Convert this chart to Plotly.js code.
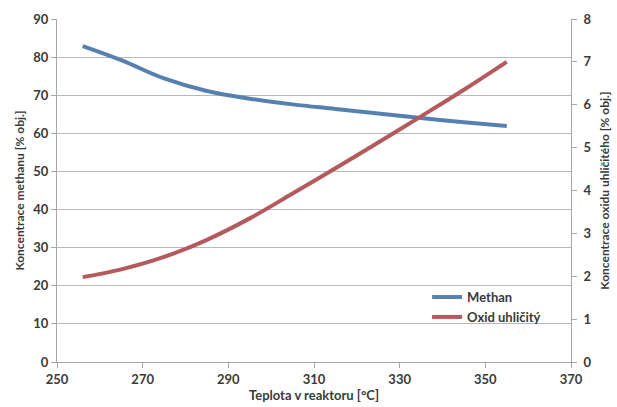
<!DOCTYPE html>
<html>
<head>
<meta charset="utf-8">
<script src="https://cdn.plot.ly/plotly-3.0.1.min.js"></script>
<style>html,body{margin:0;padding:0;background:#fff;}#chart{width:617px;height:407px;}</style>
</head>
<body>
<div id="chart"></div>
<script>
var teplota = [256, 265, 275, 285, 295, 305, 315, 325, 335, 345, 355];
var methan = [82.9, 79.2, 74.4, 71.1, 69.1, 67.6, 66.4, 65.2, 64.0, 62.9, 61.9];
var oxid = [1.98, 2.16, 2.45, 2.85, 3.35, 3.93, 4.52, 5.12, 5.73, 6.35, 7.0];
var xTicks = [250, 270, 290, 310, 330, 350, 370];

var fontFam = 'Lato, "Open Sans", sans-serif';
var axisCol = '#a6a6a6';
var txtCol = '#3a3a3a';

var traces = [
  {x: teplota, y: methan, name: 'Methan', type: 'scatter', mode: 'lines',
   line: {color: '#5680b0', width: 4, shape: 'spline', smoothing: 1.1}, yaxis: 'y'},
  {x: teplota, y: oxid, name: 'Oxid uhličitý', type: 'scatter', mode: 'lines',
   line: {color: '#b55a5c', width: 4, shape: 'spline', smoothing: 1.1}, yaxis: 'y2'}
];

var layout = {
  width: 617, height: 407,
  margin: {l: 57, r: 46, t: 19, b: 45},
  paper_bgcolor: '#ffffff', plot_bgcolor: '#ffffff',
  font: {family: fontFam, color: txtCol, size: 13, weight: 'bold'},
  showlegend: true,
  legend: {x: 0.72, y: 0.233, xanchor: 'left', yanchor: 'top', bgcolor: 'rgba(255,255,255,0)',
           font: {family: fontFam, size: 13, color: txtCol, weight: 'bold'},
           itemwidth: 30, tracegroupgap: 0},
  xaxis: {range: [250, 370], tickvals: xTicks, ticks: 'outside', ticklen: 5, tickcolor: axisCol,
          showline: true, linecolor: axisCol, linewidth: 1, showgrid: false, zeroline: false,
          tickfont: {family: fontFam, size: 13, color: txtCol, weight: 'bold'},
          title: {text: 'Teplota v reaktoru [°C]', standoff: 4,
                  font: {family: fontFam, size: 13, color: txtCol, weight: 'bold'}}},
  yaxis: {range: [0, 90], dtick: 10, ticks: 'outside', ticklen: 5, tickcolor: axisCol,
          showline: true, linecolor: axisCol, linewidth: 1, showgrid: true, gridcolor: '#b8b8b8', gridwidth: 1,
          zeroline: false,
          tickfont: {family: fontFam, size: 13, color: txtCol, weight: 'bold'},
          title: {text: 'Koncentrace methanu [% obj.]', standoff: 6,
                  font: {family: fontFam, size: 12, color: txtCol, weight: 'bold'}}},
  yaxis2: {range: [0, 8], dtick: 1, overlaying: 'y', side: 'right', ticks: 'outside', ticklen: 5, tickcolor: axisCol,
           showline: true, linecolor: axisCol, linewidth: 1, showgrid: false, zeroline: false,
           ticklabelstandoff: 4,
           tickfont: {family: fontFam, size: 13, color: txtCol, weight: 'bold'},
           title: {text: 'Koncentrace oxidu uhličitého [% obj.]', standoff: 10,
                   font: {family: fontFam, size: 12, color: txtCol, weight: 'bold'}}}
};

Plotly.newPlot('chart', traces, layout, {displayModeBar: false, staticPlot: true});
</script>
</body>
</html>
